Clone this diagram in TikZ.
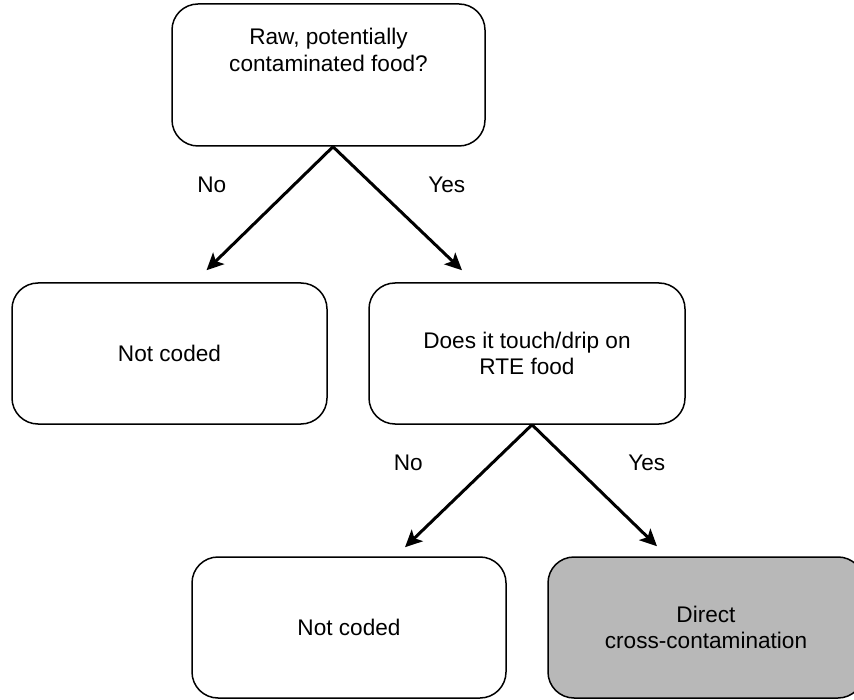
\documentclass[tikz,border=0pt]{standalone}
\usepackage{fontspec}
\setmainfont{Liberation Sans}
\usetikzlibrary{arrows.meta}
\definecolor{boxgray}{RGB}{184,184,184}
\tikzset{
  box/.style={draw=black, line width=1.5pt, rounded corners=26pt, fill=white,
    minimum width=315pt, minimum height=141pt, inner sep=0pt, align=center,
    font=\fontsize{22.6}{26.7}\selectfont},
  lbl/.style={font=\fontsize{22.6}{26.7}\selectfont, inner sep=0pt},
  conn/.style={line width=3pt, -{Stealth[length=17pt,width=16pt,inset=4pt]}},
}
\begin{document}
\begin{tikzpicture}[x=1pt,y=-1pt]
\useasboundingbox (0,0) rectangle (854,700);
\node[box, minimum width=313pt, minimum height=142pt] (q1) at (328.5,75) {};
\node[lbl, align=center] (q1t) at (328.5,50) {Raw, potentially\\contaminated food?};
\node[box] (nc1) at (169.5,353.5) {Not coded};
\node[box, minimum width=316pt] (q2) at (527,353.5) {Does it touch/drip on\\RTE food};
\node[box, minimum width=314pt] (nc2) at (349,627.5) {Not coded};
\node[box, minimum width=316pt, fill=boxgray] (dc) at (706,627.5) {Direct\\cross-contamination};

\draw[conn] ([xshift=4.5pt]q1.south) -- ([xshift=37pt,yshift=12pt]nc1.north);
\draw[conn] ([xshift=4.5pt]q1.south) -- ([xshift=-65pt,yshift=12pt]q2.north);
\draw[conn] ([xshift=5pt]q2.south) -- ([xshift=56pt,yshift=9pt]nc2.north);
\draw[conn] ([xshift=5pt]q2.south) -- ([xshift=-49pt,yshift=10pt]dc.north);

\node[lbl] (l1) at (211.7,185) {No};
\node[lbl] (l2) at (446.7,185) {Yes};
\node[lbl] (l3) at (408.3,463.3) {No};
\node[lbl] (l4) at (646.7,463.3) {Yes};
\end{tikzpicture}
\end{document}
